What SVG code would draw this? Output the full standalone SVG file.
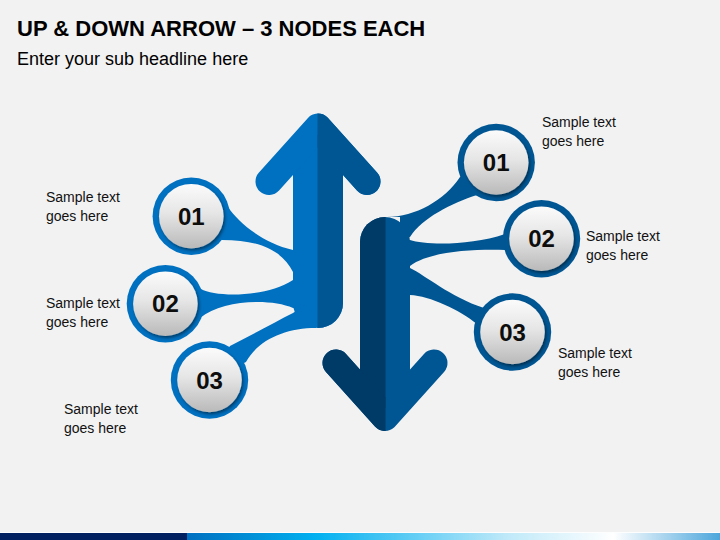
<svg xmlns="http://www.w3.org/2000/svg" width="720" height="540" viewBox="0 0 720 540">
<defs>
<style>
.title{font-family:"Liberation Sans",Arial,sans-serif;font-weight:bold;font-size:22px;fill:#000}
.sub{font-family:"Liberation Sans",Arial,sans-serif;font-size:18px;fill:#000}
.lbl{font-family:"Liberation Sans",Arial,sans-serif;font-size:14px;fill:#111}
.num{font-family:"Liberation Sans",Arial,sans-serif;font-weight:bold;font-size:24px;fill:#0d0d0d;text-anchor:middle}
.face{fill:url(#faceG);filter:url(#sh)}
.ringL{fill:#0070c0}
.ringR{fill:#005693}
</style>
<linearGradient id="faceG" x1="0" y1="0" x2="0" y2="1">
<stop offset="0" stop-color="#fbfbfb"/>
<stop offset="0.45" stop-color="#e6e6e6"/>
<stop offset="1" stop-color="#b9b9b9"/>
</linearGradient>
<linearGradient id="barG" x1="0" y1="0" x2="1" y2="0">
<stop offset="0" stop-color="#0070c0"/>
<stop offset="0.24" stop-color="#00b0f0"/>
<stop offset="0.6" stop-color="#bfe9f9"/>
<stop offset="0.8" stop-color="#ffffff"/>
<stop offset="1" stop-color="#4ba6dc"/>
</linearGradient>
<filter id="sh" x="-30%" y="-30%" width="160%" height="160%">
<feDropShadow dx="1.5" dy="2" stdDeviation="1.6" flood-color="#000" flood-opacity="0.45"/>
</filter>
<clipPath id="upR"><rect x="317.5" y="0" width="200" height="540"/></clipPath>
<clipPath id="dnL"><rect x="0" y="0" width="385.5" height="540"/></clipPath>
<g id="upShape">
<path d="M293,135 L293,303 A25,25 0 0 0 343,303 L343,135 Z" fill="currentColor"/>
<polyline points="269,181.5 318,127 367,181.5" fill="none" stroke="currentColor" stroke-width="27" stroke-linecap="round" stroke-linejoin="round"/>
</g>
<g id="dnShape">
<path d="M360,408 L360,242 A25,25 0 0 1 410,242 L410,408 Z" fill="currentColor"/>
<polyline points="336,363 385,417.5 434,363" fill="none" stroke="currentColor" stroke-width="27" stroke-linecap="round" stroke-linejoin="round"/>
</g>
</defs>
<rect x="0" y="0" width="720" height="540" fill="#f2f2f2"/>
<text class="title" x="17" y="36">UP &amp; DOWN ARROW – 3 NODES EACH</text>
<text class="sub" x="17" y="65">Enter your sub headline here</text>

<g id="up-arrow">
<use href="#upShape" color="#0070c0"/>
<use href="#upShape" color="#005693" clip-path="url(#upR)"/>
</g>
<g id="down-arrow">
<use href="#dnShape" color="#005693"/>
<use href="#dnShape" color="#003a66" clip-path="url(#dnL)"/>
</g>

<g id="connectors">
<path fill="#0070c0" d="M228,207 C238,222 262,243 293,250 L300,250 L300,272 L293,272 C283,252 262,240 222,240 L191,216 Z"/>
<path fill="#0070c0" d="M201,289 C215,297 265,298 293,280 L300,280 L300,308 L293,308 C270,298 222,300 200,318 L165,304 Z"/>
<path fill="#0070c0" d="M230,346 C252,335 275,322 293,313 L305,305 L316,315 L316,328 C285,328 258,340 246,362 L209.5,380 Z"/>
<path fill="#005693" d="M387,217 C415,217 445,200 460,177 L496,162 L477,195 C452,203 422,218 410,237 L400,237 L400,217 Z"/>
<path fill="#005693" d="M410,240 C425,245 470,246 505,234 L541.5,238.7 L505,250 C470,249 428,252 410,266 L400,266 L400,240 Z"/>
<path fill="#005693" d="M410,268 C425,275 450,297 484,308 L512.5,332 L477,324 C460,310 430,296 410,295 L400,295 L400,268 Z"/>
</g>

<g id="node-L1">
<circle class="ringL" cx="191.3" cy="216.2" r="38.7"/>
<circle class="face" cx="191.3" cy="216.2" r="32.3"/>
<text class="num" x="191.3" y="224.8">01</text>
<text class="lbl" x="46" y="202">Sample text</text>
<text class="lbl" x="46" y="221">goes here</text>
</g>
<g id="node-L2">
<circle class="ringL" cx="165.4" cy="303.7" r="38.7"/>
<circle class="face" cx="165.4" cy="303.7" r="32.3"/>
<text class="num" x="165.4" y="312.3">02</text>
<text class="lbl" x="46" y="308">Sample text</text>
<text class="lbl" x="46" y="327">goes here</text>
</g>
<g id="node-L3">
<circle class="ringL" cx="209.5" cy="380" r="38.7"/>
<circle class="face" cx="209.5" cy="380" r="32.3"/>
<text class="num" x="209.5" y="388.6">03</text>
<text class="lbl" x="64" y="414">Sample text</text>
<text class="lbl" x="64" y="433">goes here</text>
</g>
<g id="node-R1">
<circle class="ringR" cx="496.2" cy="162.5" r="38.7"/>
<circle class="face" cx="496.2" cy="162.5" r="32.3"/>
<text class="num" x="496.2" y="171.1">01</text>
<text class="lbl" x="542" y="127">Sample text</text>
<text class="lbl" x="542" y="146">goes here</text>
</g>
<g id="node-R2">
<circle class="ringR" cx="541.5" cy="238.7" r="38.7"/>
<circle class="face" cx="541.5" cy="238.7" r="32.3"/>
<text class="num" x="541.5" y="247.3">02</text>
<text class="lbl" x="586" y="241">Sample text</text>
<text class="lbl" x="586" y="260">goes here</text>
</g>
<g id="node-R3">
<circle class="ringR" cx="512.5" cy="332" r="38.7"/>
<circle class="face" cx="512.5" cy="332" r="32.3"/>
<text class="num" x="512.5" y="340.6">03</text>
<text class="lbl" x="558" y="358">Sample text</text>
<text class="lbl" x="558" y="377">goes here</text>
</g>

<g id="footer-bar">
<rect x="0" y="532" width="720" height="1" fill="#ffffff" opacity="0.8"/>
<rect x="0" y="533" width="187" height="7" fill="#002060"/>
<rect x="187" y="533" width="533" height="7" fill="url(#barG)"/>
</g>
</svg>
